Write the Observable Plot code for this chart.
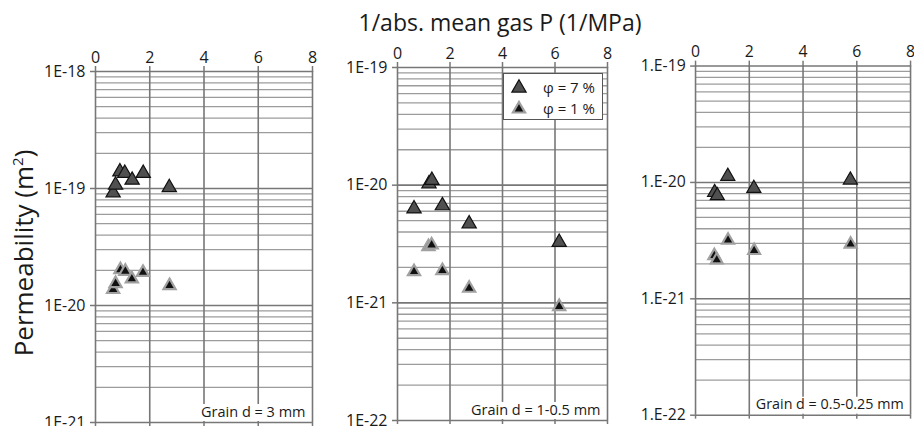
<!DOCTYPE html>
<html>
<head>
<meta charset="utf-8">
<script src="https://cdn.jsdelivr.net/npm/d3@7"></script>
<script src="https://cdn.jsdelivr.net/npm/@observablehq/plot@0.6"></script>
<style>
  html, body { margin: 0; padding: 0; background: white; }
  #wrap { position: relative; width: 914px; height: 426px; overflow: hidden; background: white; font-family: "Open Sans", sans-serif; color: #1a1a1a; }
  .panel { position: absolute; }
  .panel svg { background: transparent !important; overflow: visible; }
  #title { position: absolute; left: 250px; width: 500px; top: 11px; text-align: center; font-size: 23px; line-height: 23px; }
  #ylabel { position: absolute; left: -107px; top: 240px; width: 260px; text-align: center; font-size: 26px; line-height: 26px; transform: rotate(-90deg); transform-origin: 130px 13px; }
  #ylabel sup { font-size: 15px; line-height: 0; }
  #legend { position: absolute; left: 503px; top: 73px; width: 98px; height: 45px; border: 1.5px solid #555; background: white; font-size: 15px; }
  #legend .row { position: absolute; left: 0; height: 20px; display: flex; align-items: center; }
  #legend .row span { position: absolute; left: 39px; white-space: nowrap; }
</style>
</head>
<body>
<div id="wrap">
  <div id="title">1/abs. mean gas P (1/MPa)</div>
  <div id="ylabel">Permeability (m<sup>2</sup>)</div>
</div>
<script>
// ---- data ----
const xTicks = [0, 2, 4, 6, 8];
const seriesNames = ["φ = 7 %", "φ = 1 %"];

// Panel 1: grain d = 3 mm
const p1Label = "Grain d = 3 mm";
const p1Ticks = [1e-21, 1e-20, 1e-19, 1e-18];
const p1TickLabels = ["1E-21", "1E-20", "1E-19", "1E-18"];
const p1X7 = [0.65, 0.74, 0.90, 1.08, 1.35, 1.76, 2.72];
const p1K7 = [0.92e-19, 1.07e-19, 1.39e-19, 1.35e-19, 1.18e-19, 1.35e-19, 1.02e-19];
const p1X1 = [0.65, 0.74, 0.92, 1.10, 1.34, 1.75, 2.73];
const p1K1 = [1.37e-20, 1.54e-20, 2.02e-20, 1.96e-20, 1.69e-20, 1.92e-20, 1.48e-20];

// Panel 2: grain d = 1-0.5 mm
const p2Label = "Grain d = 1-0.5 mm";
const p2Ticks = [1e-22, 1e-21, 1e-20, 1e-19];
const p2TickLabels = ["1E-22", "1E-21", "1E-20", "1E-19"];
const p2X7 = [0.63, 1.20, 1.31, 1.71, 2.73, 6.16];
const p2K7 = [6.3e-21, 1.03e-20, 1.1e-20, 6.7e-21, 4.7e-21, 3.27e-21];
const p2X1 = [0.63, 1.18, 1.30, 1.71, 2.73, 6.16];
const p2K1 = [1.84e-21, 3.0e-21, 3.1e-21, 1.88e-21, 1.33e-21, 0.93e-21];

// Panel 3: grain d = 0.5-0.25 mm
const p3Label = "Grain d = 0.5-0.25 mm";
const p3Ticks = [1e-22, 1e-21, 1e-20, 1e-19];
const p3TickLabels = ["1.E-22", "1.E-21", "1.E-20", "1.E-19"];
const p3X7 = [0.71, 0.81, 1.20, 2.17, 5.76];
const p3K7 = [8.2e-21, 7.7e-21, 1.13e-20, 8.9e-21, 1.05e-20];
const p3X1 = [0.70, 0.79, 1.21, 2.18, 5.77];
const p3K1 = [2.35e-21, 2.16e-21, 3.19e-21, 2.6e-21, 2.95e-21];

// ---- styles ----
const sym7 = { r: 5.3, fill: "#505050", stroke: "#111", strokeWidth: 1.2 };
const sym1 = { r: 4.5, fill: "#111", stroke: "#a0a0a0", strokeWidth: 2.2 };

const wrap = document.getElementById("wrap");

function panel({label, ticks, tickLabels, x7, k7, x1, k1, frame}) {
  const mL = 70, mT = 32, mR = 4, mB = 6;
  const fw = frame.right - frame.left, fh = frame.bottom - frame.top;
  const lo = Math.round(Math.log10(ticks[0])), hi = Math.round(Math.log10(ticks[ticks.length - 1]));
  const minor = [];
  for (let e = lo; e < hi; e++) for (let m = 2; m <= 9; m++) minor.push(m * Math.pow(10, e));
  const s7 = x7.map((x, i) => ({x, k: k7[i]}));
  const s1 = x1.map((x, i) => ({x, k: k1[i]}));
  const svg = Plot.plot({
    width: mL + fw + mR,
    height: mT + fh + mB,
    marginLeft: mL, marginTop: mT, marginRight: mR, marginBottom: mB,
    style: { fontFamily: "Open Sans, sans-serif", fontSize: "16px", color: "#1a1a1a", background: "transparent", overflow: "visible" },
    x: { domain: [0, 8] },
    y: { type: "log", domain: [ticks[0], ticks[ticks.length - 1]] },
    marks: [
      Plot.ruleY(minor, { stroke: "#9c9c9c", strokeWidth: 1.3 }),
      Plot.ruleY(ticks, { stroke: "#777", strokeWidth: 1.6 }),
      Plot.ruleX(xTicks, { stroke: "#777", strokeWidth: 1.6 }),
      Plot.axisX({ anchor: "top", ticks: xTicks, tickSize: 6, tickPadding: 3, label: null, fontSize: 16, stroke: "#777", strokeWidth: 1.5, strokeOpacity: 1 }),
      Plot.axisX({ anchor: "bottom", ticks: xTicks, tickSize: 4, tickFormat: () => "", label: null, stroke: "#777", strokeWidth: 1.5, strokeOpacity: 1 }),
      Plot.axisY({ ticks, tickFormat: d => tickLabels[ticks.indexOf(d)], tickSize: 5, tickPadding: 5, label: null, fontSize: 16, stroke: "#777", strokeWidth: 1.5, strokeOpacity: 1 }),
      Plot.text([label], { frameAnchor: "bottom-right", dx: -7, dy: -6, fontSize: 14.5, fill: "#1a1a1a", className: "grain" }),
      Plot.dot(s7, { x: "x", y: "k", symbol: "triangle", ...sym7 }),
      Plot.dot(s1, { x: "x", y: "k", symbol: "triangle", ...sym1 })
    ]
  });
  const div = document.createElement("div");
  div.className = "panel";
  div.style.left = (frame.left - mL) + "px";
  div.style.top = (frame.top - mT) + "px";
  div.appendChild(svg);
  wrap.appendChild(div);
  // white box behind the grain label
  const g = svg.querySelector("g.grain");
  if (g) {
    const bb = g.getBBox();
    const rect = document.createElementNS("http://www.w3.org/2000/svg", "rect");
    rect.setAttribute("x", bb.x - 6);
    rect.setAttribute("y", bb.y - 3);
    rect.setAttribute("width", mL + fw - (bb.x - 6) - 1);
    rect.setAttribute("height", mT + fh - (bb.y - 3) - 1);
    rect.setAttribute("fill", "white");
    g.parentNode.insertBefore(rect, g);
  }
}

panel({ label: p1Label, ticks: p1Ticks, tickLabels: p1TickLabels, x7: p1X7, k7: p1K7, x1: p1X1, k1: p1K1,
        frame: { left: 95, right: 312, top: 71, bottom: 422 } });
panel({ label: p2Label, ticks: p2Ticks, tickLabels: p2TickLabels, x7: p2X7, k7: p2K7, x1: p2X1, k1: p2K1,
        frame: { left: 397, right: 607, top: 67, bottom: 420 } });
panel({ label: p3Label, ticks: p3Ticks, tickLabels: p3TickLabels, x7: p3X7, k7: p3K7, x1: p3X1, k1: p3K1,
        frame: { left: 696, right: 914, top: 66, bottom: 420 } });

// legend (HTML, placed in panel 2)
const legend = document.createElement("div");
legend.id = "legend";
[sym7, sym1].forEach((s, i) => {
  const row = document.createElement("div");
  row.className = "row";
  row.style.top = (3 + i * 21) + "px";
  row.style.width = "98px";
  const sw = d3.create("svg").attr("width", 30).attr("height", 20).style("position", "absolute").style("left", "3px");
  sw.append("path")
    .attr("d", d3.symbol(d3.symbolTriangle, Math.PI * s.r * s.r)())
    .attr("transform", "translate(12,11)")
    .attr("fill", s.fill).attr("stroke", s.stroke).attr("stroke-width", s.strokeWidth);
  row.appendChild(sw.node());
  const t = document.createElement("span");
  t.textContent = seriesNames[i];
  row.appendChild(t);
  legend.appendChild(row);
});
wrap.appendChild(legend);
</script>
</body>
</html>
